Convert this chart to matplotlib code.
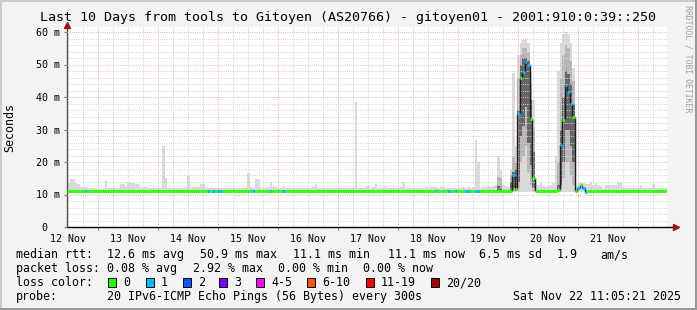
import matplotlib
matplotlib.use("Agg")
import matplotlib.pyplot as plt
from matplotlib.patches import Rectangle
from matplotlib.lines import Line2D

W, H = 697, 310
MONO = "DejaVu Sans Mono"

# hourly median rtt (ms), 240 hours, first hour starts Nov 12 ~11:30
median_ms = [
    11.1, 11.1, 11.1, 11.1, 11.1, 11.1, 11.1, 11.1, 11.1, 11.1, 11.1, 11.1, 11.1, 11.1, 11.1, 11.1, 11.1, 11.1, 11.1, 11.1,
    11.1, 11.1, 11.1, 11.1, 11.1, 11.1, 11.1, 11.1, 11.1, 11.1, 11.1, 11.1, 11.1, 11.1, 11.1, 11.1, 11.1, 11.1, 11.1, 11.1,
    11.1, 11.1, 11.1, 11.1, 11.1, 11.1, 11.1, 11.1, 11.1, 11.1, 11.1, 11.1, 11.1, 11.1, 11.1, 11.1, 11.1, 11.1, 11.1, 11.1,
    11.1, 11.1, 11.1, 11.1, 11.1, 11.1, 11.1, 11.1, 11.1, 11.1, 11.1, 11.1, 11.1, 11.1, 11.1, 11.1, 11.1, 11.1, 11.1, 11.1,
    11.1, 11.1, 11.1, 11.1, 11.1, 11.1, 11.1, 11.1, 11.1, 11.1, 11.1, 11.1, 11.1, 11.1, 11.1, 11.1, 11.1, 11.1, 11.1, 11.1,
    11.1, 11.1, 11.1, 11.1, 11.1, 11.1, 11.1, 11.1, 11.1, 11.1, 11.1, 11.1, 11.1, 11.1, 11.1, 11.1, 11.1, 11.1, 11.1, 11.1,
    11.1, 11.1, 11.1, 11.1, 11.1, 11.1, 11.1, 11.1, 11.1, 11.1, 11.1, 11.1, 11.1, 11.1, 11.1, 11.1, 11.1, 11.1, 11.1, 11.1,
    11.1, 11.1, 11.1, 11.1, 11.1, 11.1, 11.1, 11.1, 11.1, 11.1, 11.1, 11.1, 11.1, 11.1, 11.1, 11.1, 11.1, 11.1, 11.1, 11.1,
    11.1, 11.1, 11.1, 11.1, 11.1, 11.1, 11.1, 11.1, 11.1, 11.1, 11.1, 11.1, 11.1, 11.1, 11.1, 11.1, 11.1, 11.1, 16.0, 11.7,
    34.8, 45.9, 47.8, 50.9, 49.8, 33.1, 15.2, 11.1, 11.1, 11.1, 11.1, 11.1, 11.1, 11.1, 11.1, 11.1, 11.3, 25.3, 32.9, 43.7,
    41.6, 37.9, 33.9, 11.1, 12.1, 12.9, 11.9, 10.9, 11.1, 11.1, 11.1, 11.1, 11.1, 11.1, 11.1, 11.1, 11.1, 11.1, 11.1, 11.1,
    11.1, 11.1, 11.1, 11.1, 11.1, 11.1, 11.1, 11.1, 11.1, 11.1, 11.1, 11.1, 11.1, 11.1, 11.1, 11.1, 11.1, 11.1, 11.1, 11.1,
]

# top of the smoke (max rtt) per hour, ms
smoke_hi_ms = [
    13.7, 14.8, 14.8, 13.5, 13.2, 12.4, 12.4, 12.4, 11.9, 11.9, 11.9, 11.8, 11.8, 11.8, 11.8, 14.5, 11.9, 11.9, 11.9, 11.9,
    11.9, 13.1, 13.2, 12.6, 13.6, 13.6, 13.6, 13.2, 13.2, 12.0, 12.4, 12.4, 11.9, 11.9, 11.9, 11.9, 11.9, 11.9, 25.0, 15.0,
    11.9, 11.9, 11.9, 11.9, 11.9, 11.9, 11.9, 12.2, 15.7, 12.0, 12.3, 12.4, 12.4, 13.1, 13.1, 12.0, 12.0, 12.0, 12.0, 12.0,
    12.0, 12.0, 12.0, 11.9, 11.9, 11.9, 11.9, 11.9, 11.9, 11.9, 11.9, 12.4, 16.7, 12.2, 12.0, 14.8, 14.8, 12.0, 11.9, 11.9,
    12.4, 13.9, 12.4, 12.4, 11.9, 11.9, 12.6, 12.0, 11.9, 11.9, 11.9, 11.9, 11.9, 11.9, 11.9, 11.9, 12.0, 12.0, 12.4, 13.2,
    12.1, 11.9, 11.9, 11.9, 11.9, 11.9, 11.9, 11.9, 11.9, 11.9, 11.9, 11.9, 11.9, 11.9, 11.9, 38.6, 11.9, 12.0, 12.0, 12.3,
    12.6, 12.0, 12.4, 13.2, 12.0, 12.0, 12.2, 12.5, 12.0, 11.9, 11.9, 11.9, 11.9, 12.2, 13.9, 12.0, 11.9, 11.9, 11.9, 11.9,
    11.9, 11.9, 12.1, 12.3, 12.0, 12.3, 12.4, 12.2, 12.0, 12.4, 12.2, 12.0, 12.0, 12.0, 12.0, 12.0, 12.0, 12.0, 12.2, 12.0,
    12.2, 12.0, 12.2, 26.8, 20.0, 12.0, 12.4, 12.3, 12.6, 12.3, 12.6, 13.0, 21.8, 17.5, 13.0, 12.5, 12.4, 18.0, 47.5, 25.0,
    53.0, 56.6, 57.5, 57.9, 56.6, 47.8, 39.0, 13.5, 13.0, 13.5, 12.5, 12.4, 12.6, 13.0, 13.5, 22.0, 48.0, 56.6, 59.5, 60.0,
    59.5, 56.6, 49.0, 12.5, 13.5, 14.0, 13.5, 13.2, 13.2, 13.5, 13.0, 13.5, 13.0, 12.5, 11.6, 12.9, 12.9, 13.0, 13.0, 13.0,
    13.9, 13.9, 12.0, 12.0, 12.0, 12.0, 12.0, 12.0, 12.0, 12.9, 12.0, 12.0, 12.0, 12.0, 13.2, 12.0, 12.0, 12.0, 12.0, 12.0,
]
smoke_floor_ms = 10.8

# denser smoke around the two latency bumps
band_hours = [172, 173, 177, 178, 179, 180, 181, 182, 183, 184, 185, 186, 196, 197, 198, 199, 200, 201, 202]
mid_lo_ms = [11.0, 11.0, 11.0, 11.0, 11.0, 12.0, 20.0, 22.0, 25.0, 17.0, 13.0, 11.0, 11.0, 12.0, 15.0, 20.0, 20.0, 16.0, 13.0]
mid_hi_ms = [15.4, 15.0, 16.0, 22.0, 20.0, 46.0, 53.0, 55.0, 55.0, 54.0, 44.0, 30.0, 20.0, 46.0, 53.0, 56.0, 55.0, 51.0, 45.0]
dark_lo_ms = [11.0, 11.0, 11.0, 12.0, 11.0, 14.0, 28.0, 31.0, 37.0, 26.0, 19.0, 12.0, 11.0, 13.0, 20.0, 30.0, 30.0, 25.0, 20.0]
dark_hi_ms = [12.5, 12.0, 14.0, 17.0, 18.0, 36.0, 50.0, 52.0, 52.0, 51.0, 39.0, 23.0, 13.0, 30.0, 40.0, 48.0, 47.0, 44.0, 38.0]

# hours where 1 of 20 pings was lost
one_loss_hours = [7, 56, 58, 60, 61, 74, 81, 86, 147, 152, 155, 159, 160, 163, 164,
                  178, 180, 182, 183, 184, 197, 199, 200, 201, 204, 206, 207]

day_labels = ["12 Nov", "13 Nov", "14 Nov", "15 Nov", "16 Nov",
              "17 Nov", "18 Nov", "19 Nov", "20 Nov", "21 Nov"]
first_noon_h = 0.5

loss_labels = ["0", "1", "2", "3", "4-5", "6-10", "11-19", "20/20"]
loss_colors = ["#26ff00", "#00b8ff", "#0059ff", "#7e00ff", "#ff00ff", "#ff5500", "#ff0000", "#a10000"]

title = "Last 10 Days from tools to Gitoyen (AS20766) - gitoyen01 - 2001:910:0:39::250"

fig = plt.figure(figsize=(W / 100, H / 100), dpi=100, facecolor="#f3f3f3")


def fx(px):
    return px / W


def fy(py):
    return 1 - py / H


ax = fig.add_axes([fx(67), fy(227), 600 / W, 200 / H])
ax.set_facecolor("white")
n = len(median_ms)
ax.set_xlim(0, n)
ax.set_ylim(0, 200 / 3.25)

hours = list(range(n))

# smoke
ax.bar(hours, [h - smoke_floor_ms for h in smoke_hi_ms], bottom=smoke_floor_ms,
       width=1, align="edge", color="#dadada", lw=0, zorder=1)
ax.bar(band_hours, [b - a for a, b in zip(mid_lo_ms, mid_hi_ms)], bottom=mid_lo_ms,
       width=1, align="edge", color="#b6b6b6", lw=0, zorder=1.1)
ax.bar(band_hours, [b - a for a, b in zip(dark_lo_ms, dark_hi_ms)], bottom=dark_lo_ms,
       width=1, align="edge", color="#666666", lw=0, zorder=1.2)

# grid (rrdtool draws it over the smoke), fine dots
dot = (0, (1, 1.2))
minor_y = [v for v in range(2, 62, 2) if v % 10]
major_y = list(range(10, 61, 10))
six_h = [first_noon_h + 6 * k for k in range(40)]
midnights = [first_noon_h + 12 + 24 * k for k in range(10)]
ax.hlines(minor_y, 0, n, colors="#d4d4d4", linestyles=dot, lw=0.72, zorder=2)
ax.vlines([v for v in six_h if v not in midnights], 0, 62, colors="#d4d4d4", linestyles=dot, lw=0.72, zorder=2)
ax.hlines(major_y, 0, n, colors="#f4b4b4", linestyles=dot, lw=0.72, zorder=2.1)
ax.vlines(midnights, 0, 62, colors="#f4b4b4", linestyles=dot, lw=0.72, zorder=2.1)
ax.vlines(midnights, -0.9, 0, colors="#e06060", lw=0.8, clip_on=False, zorder=2)

# median line, step style with loss colours
for i in range(1, n):
    if abs(median_ms[i] - median_ms[i - 1]) > 0.6:
        ax.vlines(i, min(median_ms[i], median_ms[i - 1]), max(median_ms[i], median_ms[i - 1]),
                  colors="#1c1c1c", lw=1.0, zorder=3)
seg_colors = [loss_colors[1] if i in one_loss_hours else loss_colors[0] for i in hours]
ax.hlines(median_ms, hours, [h + 1 for h in hours], colors=seg_colors, lw=2.2, zorder=4)

# axes
for s in ax.spines.values():
    s.set_visible(False)
ax.add_line(Line2D([0, 1.012], [0, 0], transform=ax.transAxes, color="black", lw=1, clip_on=False))
ax.add_line(Line2D([0, 0], [0, 1.0], transform=ax.transAxes, color="#555555", lw=1, clip_on=False))
ax.plot([1.015], [0], marker=">", ms=4, color="#a01010", transform=ax.transAxes, clip_on=False)
ax.plot([0], [1.012], marker="^", ms=4, color="#a01010", transform=ax.transAxes, clip_on=False)

ax.set_xticks([first_noon_h + 24 * k for k in range(len(day_labels))], day_labels)
ax.set_yticks(list(range(0, 61, 10)), ["0  "] + ["%d m" % v for v in range(10, 61, 10)])
ax.tick_params(axis="x", length=0, pad=5, labelsize=7.2)
ax.tick_params(axis="y", length=2, pad=3, labelsize=7.2, color="#777777")
for lab in ax.get_xticklabels() + ax.get_yticklabels():
    lab.set_family(MONO)

fig.text(fx(348), fy(18), title, ha="center", va="center", fontsize=9.6, family=MONO)
fig.text(fx(10), fy(127), "Seconds", rotation=90, ha="center", va="center", fontsize=8.4, family=MONO)
fig.text(fx(688), fy(5), "RRDTOOL / TOBI OETIKER", rotation=270, ha="center", va="top",
         fontsize=5.9, family=MONO, color="#a0a0a0")

# legend block
lg = dict(fontsize=8.4, family=MONO, va="baseline", ha="left")
rows = [
    (258, [(16, "median rtt:"), (107.3, "12.6 ms avg"), (200, "50.9 ms max"), (293.3, "11.1 ms min"),
           (388.3, "11.1 ms now"), (479, "6.5 ms sd"), (556.7, "1.9"), (600, "am/s")]),
    (272, [(16, "packet loss:"), (107.3, "0.08 % avg"), (192.7, "2.92 % max"), (278.3, "0.00 % min"),
           (363.3, "0.00 % now")]),
    (286, [(16, "loss color:")]),
    (299.7, [(16, "probe:"), (107.3, "20 IPv6-ICMP Echo Pings (56 Bytes) every 300s"),
             (513.3, "Sat Nov 22 11:05:21 2025")]),
]
for base, items in rows:
    for x, s in items:
        fig.text(fx(x), fy(base), s, **lg)

square_x = [108.3, 145.7, 182.7, 219.3, 256, 307.3, 365.7, 430.7]
for x, c, s in zip(square_x, loss_colors, loss_labels):
    fig.add_artist(Rectangle((fx(x), fy(286.5)), 8 / W, 8.5 / H, transform=fig.transFigure,
                             facecolor=c, edgecolor="black", lw=0.7))
    fig.text(fx(x + 15), fy(286), s, **lg)

# frame shading
fig.add_artist(Line2D([0, 1], [fy(1), fy(1)], transform=fig.transFigure, color="#cbcbcb", lw=1.5))
fig.add_artist(Line2D([fx(1), fx(1)], [0, 1], transform=fig.transFigure, color="#cbcbcb", lw=1.5))
fig.add_artist(Line2D([0, 1], [fy(308.5), fy(308.5)], transform=fig.transFigure, color="#999999", lw=2.2))
fig.add_artist(Line2D([fx(695.5), fx(695.5)], [0, 1], transform=fig.transFigure, color="#999999", lw=2.2))

fig.savefig("out.png", dpi=100, facecolor=fig.get_facecolor())
